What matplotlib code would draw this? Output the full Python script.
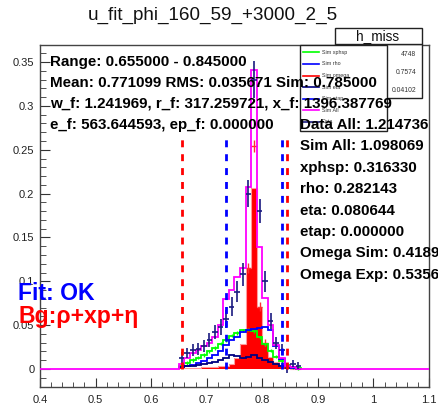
import numpy as np
import matplotlib
matplotlib.use("Agg")
import matplotlib.pyplot as plt
from matplotlib.patches import Rectangle
from matplotlib.lines import Line2D

plt.rcParams["font.family"] = ["Liberation Sans", "DejaVu Sans"]

W, H = 438, 408

# ---- histogram content: 0.01 wide bins from 0.65 to 0.87 ----
bin_lo = 0.65
bin_w = 0.01
sim_all   = [0.006, 0.012, 0.018, 0.022, 0.026, 0.030, 0.037, 0.050, 0.080, 0.090, 0.105,
             0.115, 0.207, 0.341, 0.139, 0.081, 0.050, 0.027, 0.012, 0.004, 0.002, 0.0]
sim_omega = [0.004, 0.001, 0.001, 0.001, 0.002, 0.002, 0.002, 0.003, 0.004, 0.006, 0.012,
             0.028, 0.115, 0.206, 0.071, 0.030, 0.014, 0.008, 0.004, 0.002, 0.0, 0.0]
sim_xphsp = [0.004, 0.007, 0.010, 0.013, 0.016, 0.020, 0.024, 0.029, 0.033, 0.038, 0.041,
             0.044, 0.045, 0.043, 0.036, 0.028, 0.021, 0.014, 0.009, 0.005, 0.002, 0.001]
sim_rho   = [0.002, 0.004, 0.005, 0.007, 0.009, 0.012, 0.016, 0.020, 0.027, 0.033, 0.036,
             0.042, 0.044, 0.046, 0.047, 0.048, 0.045, 0.026, 0.011, 0.004, 0.001, 0.0]
sim_eta   = [0.002, 0.003, 0.004, 0.005, 0.006, 0.007, 0.008, 0.010, 0.013, 0.016, 0.015,
             0.013, 0.014, 0.016, 0.012, 0.010, 0.008, 0.006, 0.004, 0.003, 0.002, 0.0]
data_all  = [0.013, 0.018, 0.022, 0.023, 0.026, 0.033, 0.042, 0.048, 0.057, 0.071, 0.088,
             0.108, 0.200, 0.330, 0.180, 0.100, 0.055, 0.030, 0.022, 0.001, 0.006, 0.004]
data_err  = [0.006, 0.006, 0.007, 0.007, 0.007, 0.008, 0.008, 0.009, 0.010, 0.011, 0.012,
             0.013, 0.015, 0.021, 0.014, 0.012, 0.009, 0.007, 0.006, 0.006, 0.004, 0.004]
omega_exp_bin = [12, 13, 14, 15]
omega_exp     = [0.115, 0.254, 0.071, 0.030]
omega_exp_err = [0.006, 0.007, 0.005, 0.004]

range_lo, range_hi = 0.655, 0.845
win_lo, win_hi = 0.735, 0.835
line_top = 0.264

x_ticks = [0.4, 0.5, 0.6, 0.7, 0.8, 0.9, 1.0, 1.1]
x_tick_labels = ["0.4", "0.5", "0.6", "0.7", "0.8", "0.9", "1", "1.1"]
y_ticks = [0, 0.05, 0.1, 0.15, 0.2, 0.25, 0.3, 0.35]
y_tick_labels = ["0", "0.05", "0.1", "0.15", "0.2", "0.25", "0.3", "0.35"]

stats_lines = [
    "Range: 0.655000 - 0.845000",
    "Mean: 0.771099 RMS: 0.035671 Sim: 0.785000",
    "w_f: 1.241969, r_f: 317.259721, x_f: 1396.387769",
    "e_f: 563.644593, ep_f: 0.000000",
]
yield_lines = [
    "Data All: 1.214736",
    "Sim All: 1.098069",
    "xphsp: 0.316330",
    "rho: 0.282143",
    "eta: 0.080644",
    "etap: 0.000000",
    "Omega Sim: 0.418954",
    "Omega Exp: 0.535667",
]
legend_entries = [("Sim xphsp", "#00ff00"), ("Sim rho", "#0000ff"), ("Sim omega", "#ff0000"),
                  ("Sim eta", "#000080"), ("Sim etap", "#0000ff"), ("Sim All", "#ff00ff"),
                  ("Data", "#1a1a80")]
hstat_labels = ["Entries", "Mean", "RMS"]
hstat_values = ["4748", "0.7574", "0.04102"]

NAVY = "#1a1a80"

# ---- figure ----
fig = plt.figure(figsize=(W / 100, H / 100), dpi=100)
fig.patch.set_facecolor("white")


def fx(px):
    return px / W


def fy(py):
    return 1 - py / H


ax = fig.add_axes([fx(40), fy(387), (429 - 40) / W, (387 - 45) / H])
ax.set_xlim(0.4, 1.1)
ax.set_ylim(-0.0205, 0.3694)

n = len(sim_all)
edges = bin_lo + bin_w * np.arange(n + 1)
centers = edges[:-1] + bin_w / 2

# full-range Sim All, zero outside the filled region
full_edges = 0.40 + bin_w * np.arange(71)
full_all = np.zeros(70)
off = int(round((bin_lo - 0.40) / bin_w))
full_all[off:off + n] = sim_all

ax.stairs(sim_omega, edges, fill=True, color="#ff0000", zorder=2)
ax.stairs(sim_omega, edges, color="#ff9a9a", lw=0.8, zorder=2.1)
ax.errorbar(centers[omega_exp_bin], omega_exp, yerr=omega_exp_err, xerr=bin_w / 2,
            fmt="none", ecolor="#ff3030", elinewidth=1.0, zorder=2.2)

ax.stairs(sim_xphsp, edges, color="#00ff00", lw=1.3, zorder=3)
ax.errorbar(centers, sim_xphsp, yerr=0.002, fmt="none", ecolor="#00ff00",
            elinewidth=1.0, zorder=3)
ax.stairs(sim_rho, edges, color="#0000ff", lw=1.3, zorder=3.1)
ax.stairs(sim_eta, edges, color="#000080", lw=1.3, zorder=3.2)
ax.stairs(full_all, full_edges, color="#ff00ff", lw=1.3, zorder=4)
ax.errorbar(centers, data_all, yerr=data_err, xerr=bin_w / 2, fmt="none",
            ecolor=NAVY, elinewidth=1.2, zorder=5)

for xv, col in [(range_lo, "#ff0000"), (range_hi, "#ff0000"),
                (win_lo, "#0000ff"), (win_hi, "#0000ff")]:
    ax.plot([xv, xv], [0, line_top], color=col, lw=2.0, ls=(0, (2.5, 2.5)), zorder=6)

ax.set_xticks(x_ticks)
ax.set_xticklabels(x_tick_labels)
ax.set_yticks(y_ticks)
ax.set_yticklabels(y_tick_labels)
ax.set_xticks(np.round(np.arange(0.4, 1.1001, 0.02), 3), minor=True)
ax.set_yticks(np.round(np.arange(-0.02, 0.3601, 0.01), 3), minor=True)
ax.tick_params(which="both", direction="in", top=False, right=False,
               colors="#333333", labelcolor="#222222", labelsize=8)
ax.tick_params(axis="y", which="major", length=7.5, pad=4)
ax.tick_params(axis="y", which="minor", length=4)
ax.tick_params(axis="x", which="major", length=6.5, pad=6)
ax.tick_params(axis="x", which="minor", length=3.5)
for s in ax.spines.values():
    s.set_color("#444444")
    s.set_linewidth(1.0)

# ---- title ----
fig.text(fx(213), fy(15), "u_fit_phi_160_59_+3000_2_5", ha="center", va="center",
         fontsize=13.6, color="#111111")

# ---- h_miss box ----
fig.add_artist(Rectangle((fx(335), fy(98)), (422 - 335) / W, (98 - 44) / H,
                         transform=fig.transFigure, facecolor="white",
                         edgecolor="#222222", lw=1.0, zorder=10))
fig.add_artist(Rectangle((fx(335), fy(44)), (422 - 335) / W, (44 - 28) / H,
                         transform=fig.transFigure, facecolor="white",
                         edgecolor="#222222", lw=1.0, zorder=10))
fig.text(fx(378), fy(36.5), "h_miss", ha="center", va="center", fontsize=9.8,
         color="#111111", zorder=11)
for i, (lab, val) in enumerate(zip(hstat_labels, hstat_values)):
    yy = 55 + 17.5 * i
    fig.text(fx(340), fy(yy), lab, ha="left", va="center", fontsize=4.9,
             color="#333333", zorder=11)
    fig.text(fx(416), fy(yy), val, ha="right", va="center", fontsize=4.9,
             color="#333333", zorder=11)

# ---- legend ----
fig.add_artist(Rectangle((fx(300), fy(131)), (387 - 300) / W, (131 - 45) / H,
                         transform=fig.transFigure, facecolor="white",
                         edgecolor="#222222", lw=1.0, zorder=12))
for i, (lab, col) in enumerate(legend_entries):
    yy = 52.3 + 11.6 * i
    fig.add_artist(Line2D([fx(303), fx(319)], [fy(yy), fy(yy)], color=col, lw=1.2,
                          transform=fig.transFigure, zorder=13))
    fig.text(fx(322), fy(yy), lab, ha="left", va="center", fontsize=3.9,
             color="#333333", zorder=13)

# ---- fit summary text ----
for i, s in enumerate(stats_lines):
    fig.text(fx(50), fy(61.7 + 21.1 * i), s, ha="left", va="center", fontsize=10.9,
             fontweight="bold", color="black", zorder=20)
for i, s in enumerate(yield_lines):
    fig.text(fx(300), fy(125 + 21.4 * i), s, ha="left", va="center", fontsize=10.9,
             fontweight="bold", color="black", zorder=20)

fig.text(fx(18), fy(294), "Fit: OK", ha="left", va="center", fontsize=16.6,
         fontweight="bold", color="#0000ff", zorder=20)
fig.text(fx(18), fy(317), "Bg:ρ+xp+η", ha="left", va="center", fontsize=16.6,
         fontweight="bold", color="#ff0000", zorder=20,
         family=["Liberation Sans", "DejaVu Sans"])

fig.savefig("out.png", dpi=100)
